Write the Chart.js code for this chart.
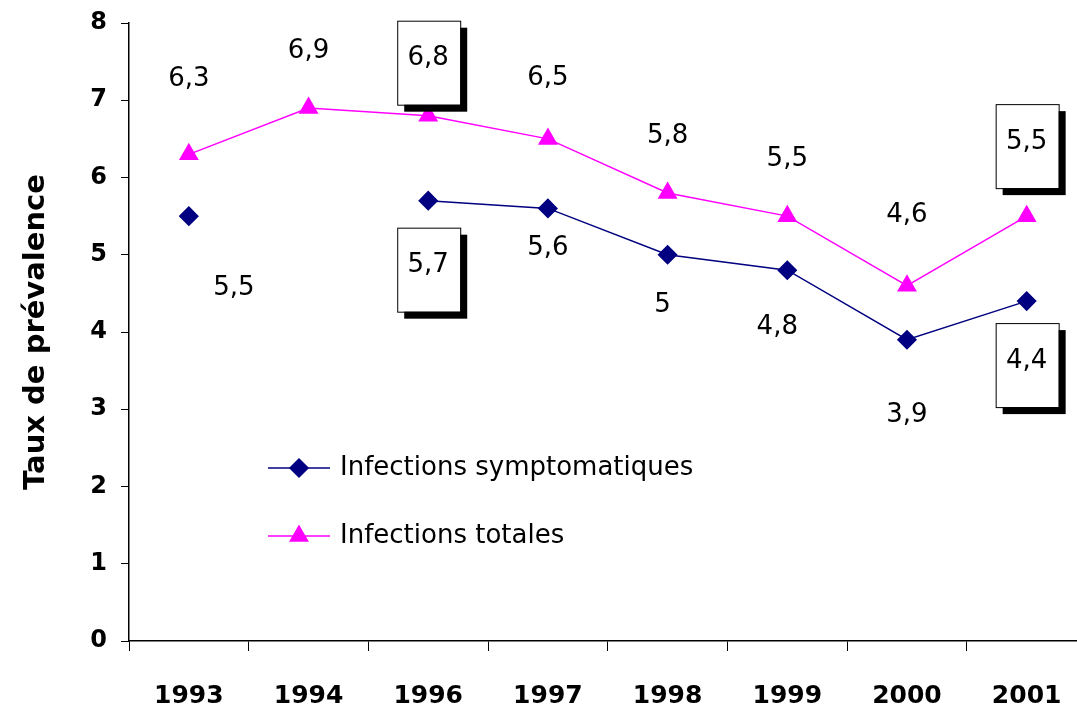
<!DOCTYPE html>
<html>
<head>
<meta charset="utf-8">
<script src="https://cdn.jsdelivr.net/npm/chart.js@4"></script>
<style>
  html, body { margin: 0; padding: 0; background: #fff; overflow: hidden; }
  #wrap { width: 1098px; height: 722px; }
</style>
</head>
<body>
<div id="wrap"><canvas id="prevChart" width="1098" height="722"></canvas></div>
<script>
const years = ['1993', '1994', '1996', '1997', '1998', '1999', '2000', '2001'];
const symptomatiques = [5.5, null, 5.7, 5.6, 5.0, 4.8, 3.9, 4.4];
const totales = [6.3, 6.9, 6.8, 6.5, 5.8, 5.5, 4.6, 5.5];
const yTicks = [0, 1, 2, 3, 4, 5, 6, 7, 8];

const font = "'DejaVu Sans', sans-serif";

// label placement per point: [dx, dy, boxed]
const labelPosTot = [[0, -75, false], [0, -57, false], [0, -53, true], [0, -61, false],
                     [0, -57, false], [0, -57, false], [0, -70, false], [0, -70, true]];
const labelPosSym = [[45, 72, false], null, [0, 69, true], [0, 40, false],
                     [-5, 50, false], [-10, 57, false], [0, 76, false], [0, 64, true]];

const pointLabels = {
    id: 'pointLabels',
    afterDatasetsDraw(chart) {
        const ctx = chart.ctx;
        ctx.save();
        ctx.font = "26px " + font;
        ctx.textAlign = 'center';
        ctx.textBaseline = 'middle';
        [labelPosSym, labelPosTot].forEach((pos, di) => {
            const meta = chart.getDatasetMeta(di);
            const data = chart.data.datasets[di].data;
            meta.data.forEach((pt, i) => {
                if (data[i] == null || !pos[i]) return;
                const [dx, dy, boxed] = pos[i];
                const x = pt.x + dx, y = pt.y + dy;
                if (boxed) {
                    const bx = x - 31, by = y - 42, bw = 63, bh = 84;
                    ctx.fillStyle = '#000';
                    ctx.fillRect(bx + 7, by + 7, bw, bh);
                    ctx.fillStyle = '#fff';
                    ctx.fillRect(bx, by, bw, bh);
                    ctx.strokeStyle = '#000';
                    ctx.lineWidth = 1;
                    ctx.strokeRect(bx + 0.5, by + 0.5, bw, bh);
                }
                ctx.fillStyle = '#000';
                ctx.fillText(String(data[i]).replace('.', ','), x, boxed ? y - 4 : y);
            });
        });
        ctx.restore();
    }
};

const legendInside = {
    id: 'legendInside',
    afterDraw(chart) {
        const ctx = chart.ctx;
        ctx.save();
        const rows = [{ y: 468, ds: 0 }, { y: 536, ds: 1 }];
        rows.forEach(r => {
            const ds = chart.data.datasets[r.ds];
            ctx.strokeStyle = ds.borderColor;
            ctx.lineWidth = 1.5;
            ctx.beginPath();
            ctx.moveTo(268, r.y);
            ctx.lineTo(330, r.y);
            ctx.stroke();
            Chart.helpers.drawPoint(ctx, {
                pointStyle: ds.pointStyle, radius: ds.pointRadius, rotation: 0, borderWidth: 1
            }, 299, r.y);
            ctx.fillStyle = ds.backgroundColor;
            ctx.strokeStyle = ds.borderColor;
            ctx.fill();
            ctx.fillStyle = '#000';
            ctx.font = "26px " + font;
            ctx.textAlign = 'left';
            ctx.textBaseline = 'middle';
            ctx.fillText(ds.label, 340, r.y);
        });
        ctx.restore();
    }
};

const ctx = document.getElementById('prevChart').getContext('2d');
new Chart(ctx, {
    type: 'line',
    data: {
        labels: years,
        datasets: [{
            label: 'Infections symptomatiques',
            data: symptomatiques,
            borderColor: '#000080',
            backgroundColor: '#000080',
            borderWidth: 1.5,
            pointStyle: 'rectRot',
            pointRadius: 9,
            pointHoverRadius: 9,
            spanGaps: false,
            tension: 0
        }, {
            label: 'Infections totales',
            data: totales,
            borderColor: '#ff00ff',
            backgroundColor: '#ff00ff',
            borderWidth: 1.5,
            pointStyle: 'triangle',
            pointRadius: 10,
            pointHoverRadius: 10,
            tension: 0
        }]
    },
    options: {
        responsive: false,
        animation: false,
        layout: { padding: { top: 23, left: 0, right: 0, bottom: 0 } },
        scales: {
            x: {
                offset: true,
                grid: {
                    offset: true, drawOnChartArea: false, drawTicks: true,
                    tickLength: 10, color: '#000', tickColor: '#000'
                },
                border: { color: '#000', width: 1.5 },
                ticks: {
                    color: '#000', padding: 30,
                    font: { family: font, size: 25, weight: 'bold' }
                },
                afterFit(scale) { scale.height = 81; }
            },
            y: {
                min: 0, max: 8,
                afterBuildTicks(scale) { scale.ticks = yTicks.map(v => ({ value: v })); },
                grid: {
                    drawOnChartArea: false, drawTicks: true, tickLength: 8,
                    color: '#000', tickColor: '#000'
                },
                border: { color: '#000', width: 1.5 },
                ticks: {
                    color: '#000', padding: 14,
                    font: { family: font, size: 24, weight: 'bold' }
                },
                title: {
                    display: true,
                    text: 'Taux de prévalence',
                    color: '#000',
                    padding: { top: 19, bottom: 0 },
                    font: { family: font, size: 29, weight: 'bold' }
                },
                afterFit(scale) {
                    scale.width = 129;
                    scale.paddingTop = 0;
                    scale.paddingBottom = 0;
                }
            }
        },
        plugins: {
            legend: { display: false },
            tooltip: { enabled: false }
        }
    },
    plugins: [pointLabels, legendInside]
});
</script>
</body>
</html>
